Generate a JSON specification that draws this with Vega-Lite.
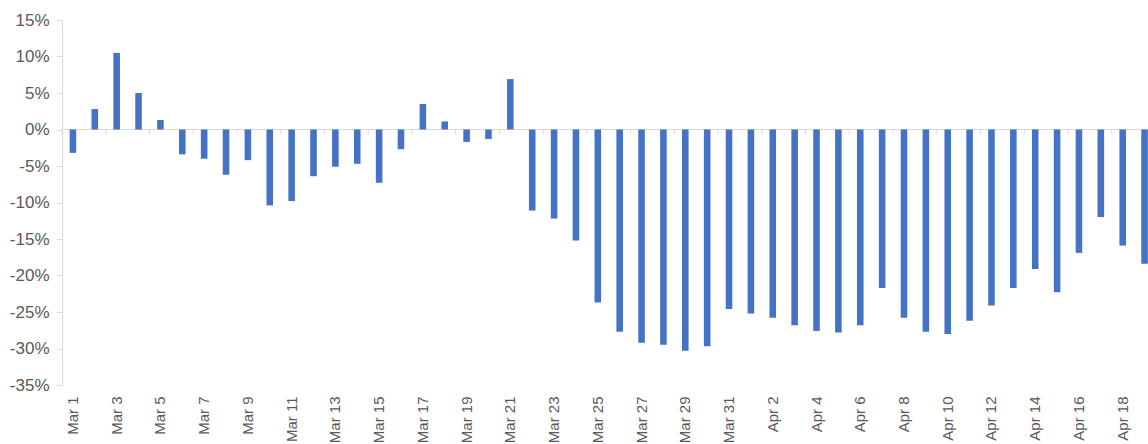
{
  "$schema": "https://vega.github.io/schema/vega-lite/v6.json",
  "autosize": "none",
  "width": 1086,
  "height": 365,
  "padding": {"left": 62, "top": 20, "right": 0, "bottom": 59},
  "background": "white",
  "config": {
    "view": {"stroke": null},
    "axis": {"title": null, "grid": false, "labelColor": "#595959", "domainColor": "#d9d9d9", "tickColor": "#d9d9d9"},
    "axisX": {"labelAngle": -90, "labelFont": "Liberation Sans", "labelFontSize": 15, "ticks": false, "domain": false, "labelPadding": 11},
    "axisY": {"labelFont": "Liberation Sans", "labelFontSize": 17, "tickSize": 6, "labelPadding": 7}
  },
  "data": {"values": [
    {"day": "Mar 1", "v": -3.2}, {"day": "Mar 2", "v": 2.8}, {"day": "Mar 3", "v": 10.5}, {"day": "Mar 4", "v": 5.0},
    {"day": "Mar 5", "v": 1.3}, {"day": "Mar 6", "v": -3.4}, {"day": "Mar 7", "v": -4.0}, {"day": "Mar 8", "v": -6.2},
    {"day": "Mar 9", "v": -4.2}, {"day": "Mar 10", "v": -10.4}, {"day": "Mar 11", "v": -9.8}, {"day": "Mar 12", "v": -6.4},
    {"day": "Mar 13", "v": -5.1}, {"day": "Mar 14", "v": -4.7}, {"day": "Mar 15", "v": -7.3}, {"day": "Mar 16", "v": -2.7},
    {"day": "Mar 17", "v": 3.5}, {"day": "Mar 18", "v": 1.1}, {"day": "Mar 19", "v": -1.7}, {"day": "Mar 20", "v": -1.3},
    {"day": "Mar 21", "v": 6.9}, {"day": "Mar 22", "v": -11.1}, {"day": "Mar 23", "v": -12.2}, {"day": "Mar 24", "v": -15.2},
    {"day": "Mar 25", "v": -23.7}, {"day": "Mar 26", "v": -27.7}, {"day": "Mar 27", "v": -29.2}, {"day": "Mar 28", "v": -29.5},
    {"day": "Mar 29", "v": -30.3}, {"day": "Mar 30", "v": -29.7}, {"day": "Mar 31", "v": -24.6}, {"day": "Apr 1", "v": -25.2},
    {"day": "Apr 2", "v": -25.8}, {"day": "Apr 3", "v": -26.8}, {"day": "Apr 4", "v": -27.6}, {"day": "Apr 5", "v": -27.8},
    {"day": "Apr 6", "v": -26.8}, {"day": "Apr 7", "v": -21.7}, {"day": "Apr 8", "v": -25.8}, {"day": "Apr 9", "v": -27.7},
    {"day": "Apr 10", "v": -28.0}, {"day": "Apr 11", "v": -26.2}, {"day": "Apr 12", "v": -24.1}, {"day": "Apr 13", "v": -21.7},
    {"day": "Apr 14", "v": -19.1}, {"day": "Apr 15", "v": -22.3}, {"day": "Apr 16", "v": -16.9}, {"day": "Apr 17", "v": -12.0},
    {"day": "Apr 18", "v": -15.9}, {"day": "Apr 19", "v": -18.4}
  ]},
  "layer": [
    {
      "mark": {"type": "rule", "color": "#d9d9d9", "strokeWidth": 1},
      "encoding": {"y": {"datum": 0, "type": "quantitative"}}
    },
    {
      "transform": [{"filter": {"field": "day", "oneOf": ["Mar 1","Mar 3","Mar 5","Mar 7","Mar 9","Mar 11","Mar 13","Mar 15","Mar 17","Mar 19","Mar 21","Mar 23","Mar 25","Mar 27","Mar 29","Mar 31","Apr 2","Apr 4","Apr 6","Apr 8","Apr 10","Apr 12","Apr 14","Apr 16","Apr 18"]}}],
      "mark": {"type": "rule", "color": "#d9d9d9", "strokeWidth": 1},
      "encoding": {
        "x": {"field": "day", "type": "nominal", "bandPosition": -1.167},
        "y": {"datum": 0, "type": "quantitative"},
        "y2": {"datum": -0.7}
      }
    },
    {
      "mark": {"type": "bar", "color": "#4472c4"},
      "encoding": {
        "x": {
          "field": "day", "type": "nominal", "title": null,
          "scale": {
            "domain": ["Mar 1","Mar 2","Mar 3","Mar 4","Mar 5","Mar 6","Mar 7","Mar 8","Mar 9","Mar 10","Mar 11","Mar 12","Mar 13","Mar 14","Mar 15","Mar 16","Mar 17","Mar 18","Mar 19","Mar 20","Mar 21","Mar 22","Mar 23","Mar 24","Mar 25","Mar 26","Mar 27","Mar 28","Mar 29","Mar 30","Mar 31","Apr 1","Apr 2","Apr 3","Apr 4","Apr 5","Apr 6","Apr 7","Apr 8","Apr 9","Apr 10","Apr 11","Apr 12","Apr 13","Apr 14","Apr 15","Apr 16","Apr 17","Apr 18","Apr 19"],
            "range": [0, 1093.5], "paddingInner": 0.7, "paddingOuter": 0.35
          },
          "axis": {
            "labelOverlap": false,
            "values": ["Mar 1","Mar 3","Mar 5","Mar 7","Mar 9","Mar 11","Mar 13","Mar 15","Mar 17","Mar 19","Mar 21","Mar 23","Mar 25","Mar 27","Mar 29","Mar 31","Apr 2","Apr 4","Apr 6","Apr 8","Apr 10","Apr 12","Apr 14","Apr 16","Apr 18"]
          }
        },
        "y": {
          "field": "v", "type": "quantitative", "title": null,
          "scale": {"domain": [-35, 15], "nice": false},
          "axis": {
            "labelOverlap": false,
            "tickCount": 20,
            "values": [-35, -30, -25, -20, -15, -10, -5, 0, 5, 10, 15],
            "labelExpr": "datum.value + '%'"
          }
        }
      }
    }
  ]
}
